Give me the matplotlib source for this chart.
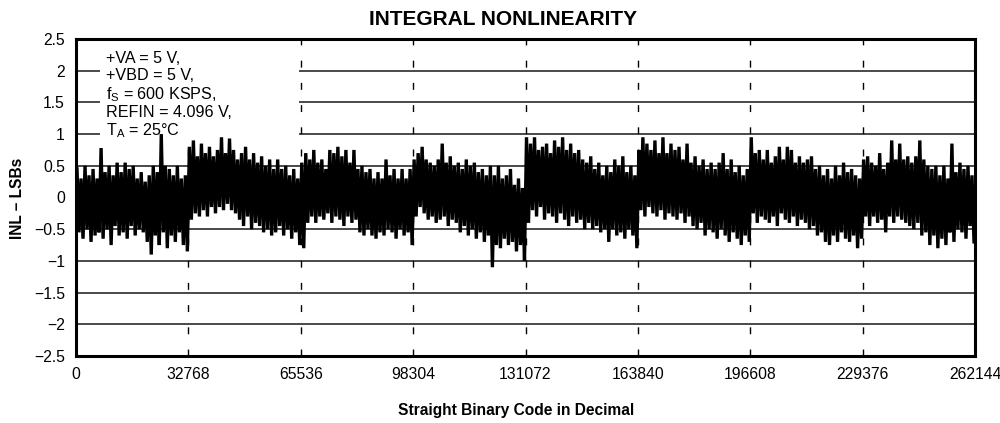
import matplotlib
matplotlib.use("Agg")
import matplotlib.pyplot as plt
from matplotlib.patches import Rectangle
import numpy as np

plt.rcParams['font.family'] = ['Liberation Sans', 'DejaVu Sans']
plt.rcParams['mathtext.fontset'] = 'custom'
plt.rcParams['mathtext.rm'] = 'Liberation Sans'
plt.rcParams['mathtext.it'] = 'Liberation Sans'

# ---------------- data (peak envelopes, 8 segments x 28 columns) ----------
upper_seg0 = [0.45, 0.30, 0.50, 0.35, 0.45, 0.30, 0.78, 0.40, 0.50, 0.35, 0.55, 0.40, 0.55, 0.45,
              0.50, 0.30, 0.40, 0.25, 0.35, 0.50, 0.40, 1.00, 0.50, 0.45, 0.35, 0.50, 0.30, 0.35]
lower_seg0 = [-0.55, -0.65, -0.50, -0.70, -0.60, -0.55, -0.65, -0.50, -0.75, -0.45, -0.60, -0.55, -0.65, -0.45,
              -0.60, -0.50, -0.55, -0.70, -0.90, -0.60, -0.75, -0.55, -0.80, -0.60, -0.70, -0.55, -0.75, -0.85]
upper_seg1 = [0.80, 0.90, 0.65, 0.85, 0.70, 0.80, 0.65, 0.75, 0.95, 0.70, 0.93, 0.75, 0.60, 0.70,
              0.80, 0.60, 0.70, 0.55, 0.65, 0.50, 0.60, 0.45, 0.60, 0.45, 0.50, 0.35, 0.45, 0.30]
lower_seg1 = [-0.35, -0.25, -0.30, -0.20, -0.30, -0.15, -0.25, -0.15, -0.20, -0.10, -0.20, -0.25, -0.35, -0.45,
              -0.30, -0.50, -0.40, -0.45, -0.55, -0.50, -0.60, -0.55, -0.45, -0.60, -0.50, -0.65, -0.55, -0.75]
upper_seg2 = [0.55, 0.70, 0.60, 0.75, 0.55, 0.60, 0.45, 0.75, 0.70, 0.80, 0.65, 0.75, 0.55, 0.75,
              0.45, 0.50, 0.40, 0.45, 0.30, 0.40, 0.30, 0.60, 0.35, 0.45, 0.30, 0.45, 0.30, 0.45]
lower_seg2 = [-0.80, -0.40, -0.30, -0.40, -0.30, -0.35, -0.25, -0.40, -0.30, -0.35, -0.45, -0.30, -0.40, -0.35,
              -0.55, -0.60, -0.50, -0.60, -0.65, -0.55, -0.60, -0.50, -0.55, -0.65, -0.50, -0.60, -0.55, -0.75]
upper_seg3 = [0.60, 0.70, 0.80, 0.60, 0.55, 0.50, 0.60, 0.85, 0.55, 0.65, 0.50, 0.55, 0.45, 0.60,
              0.50, 0.55, 0.40, 0.45, 0.35, 0.50, 0.35, 0.50, 0.30, 0.35, 0.45, 0.20, 0.30, 0.15]
lower_seg3 = [-0.30, -0.15, -0.25, -0.35, -0.30, -0.40, -0.35, -0.30, -0.45, -0.35, -0.40, -0.55, -0.45, -0.60,
              -0.50, -0.65, -0.55, -0.70, -0.60, -1.10, -0.75, -0.80, -0.65, -0.75, -0.70, -0.85, -0.75, -1.00]
upper_seg4 = [0.95, 0.85, 0.95, 0.75, 0.80, 0.85, 0.70, 0.90, 0.80, 0.95, 0.75, 0.85, 0.70, 0.75,
              0.60, 0.55, 0.65, 0.45, 0.55, 0.35, 0.50, 0.40, 0.60, 0.50, 0.65, 0.40, 0.50, 0.35]
lower_seg4 = [-0.40, -0.20, -0.30, -0.15, -0.35, -0.25, -0.30, -0.40, -0.25, -0.35, -0.45, -0.30, -0.40, -0.35,
              -0.50, -0.40, -0.50, -0.45, -0.55, -0.50, -0.70, -0.50, -0.60, -0.55, -0.65, -0.50, -0.60, -0.80]
upper_seg5 = [0.75, 0.95, 0.85, 0.75, 0.90, 0.70, 0.95, 0.70, 0.85, 0.75, 0.80, 0.60, 0.85, 0.55,
              0.65, 0.50, 0.60, 0.45, 0.55, 0.45, 0.55, 0.70, 0.45, 0.60, 0.40, 0.50, 0.35, 0.45]
lower_seg5 = [-0.20, -0.30, -0.15, -0.25, -0.30, -0.20, -0.35, -0.25, -0.30, -0.35, -0.25, -0.40, -0.30, -0.45,
              -0.50, -0.40, -0.60, -0.50, -0.55, -0.65, -0.50, -0.60, -0.70, -0.55, -0.65, -0.75, -0.60, -0.70]
upper_seg6 = [0.95, 0.70, 0.75, 0.60, 0.75, 0.55, 0.65, 0.80, 0.60, 0.80, 0.75, 0.55, 0.65, 0.55,
              0.60, 0.65, 0.45, 0.50, 0.35, 0.45, 0.30, 0.50, 0.35, 0.55, 0.40, 0.45, 0.35, 0.30]
lower_seg6 = [-0.25, -0.40, -0.30, -0.35, -0.40, -0.30, -0.45, -0.25, -0.35, -0.40, -0.30, -0.45, -0.35, -0.40,
              -0.50, -0.45, -0.60, -0.55, -0.70, -0.75, -0.60, -0.70, -0.55, -0.65, -0.70, -0.60, -0.80, -0.65]
upper_seg7 = [0.60, 0.65, 0.55, 0.50, 0.70, 0.45, 0.55, 0.90, 0.60, 0.85, 0.60, 0.65, 0.55, 0.65,
              0.90, 0.60, 0.50, 0.45, 0.50, 0.35, 0.50, 0.30, 0.85, 0.40, 0.55, 0.45, 0.50, 0.35]
lower_seg7 = [-0.30, -0.45, -0.30, -0.40, -0.35, -0.55, -0.30, -0.40, -0.30, -0.35, -0.40, -0.45, -0.50, -0.40,
              -0.60, -0.55, -0.75, -0.60, -0.80, -0.65, -0.75, -0.55, -0.70, -0.50, -0.55, -0.65, -0.45, -0.70]

x_ticks = [0, 32768, 65536, 98304, 131072, 163840, 196608, 229376, 262144]
x_tick_labels = ['0', '32768', '65536', '98304', '131072', '163840', '196608', '229376', '262144']
y_ticks = [-2.5, -2, -1.5, -1, -0.5, 0, 0.5, 1, 1.5, 2, 2.5]
y_tick_labels = ['\u22122.5', '\u22122', '\u22121.5', '\u22121', '\u22120.5', '0', '0.5', '1', '1.5', '2', '2.5']
conditions = ['+VA = 5 V,', '+VBD = 5 V,', 'f$_\\mathrm{S}$ = 600 KSPS,', 'REFIN = 4.096 V,',
              'T$_\\mathrm{A}$ = 25\u00b0C']
title = 'INTEGRAL NONLINEARITY'
xlabel = 'Straight Binary Code in Decimal'
ylabel = 'INL \u2013 LSBs'

upper = (upper_seg0 + upper_seg1 + upper_seg2 + upper_seg3 +
         upper_seg4 + upper_seg5 + upper_seg6 + upper_seg7)
lower = (lower_seg0 + lower_seg1 + lower_seg2 + lower_seg3 +
         lower_seg4 + lower_seg5 + lower_seg6 + lower_seg7)

# ---------------- figure ----------------
fig = plt.figure(figsize=(10.0, 4.23), dpi=100)
ax = fig.add_axes([0.076, 0.1584, 0.899, 0.7494])

n = len(upper)
full = 262144
step = full / n
xs, ys = [], []
for i in range(n):
    xs.append((i + 0.25) * step)
    ys.append(upper[i])
    xs.append((i + 0.75) * step)
    ys.append(lower[i])
ax.plot(xs, ys, color='black', lw=2.4, zorder=3, solid_joinstyle='miter')

ax.set_xlim(0, full)
ax.set_ylim(-2.5, 2.5)

# grid
for yv in y_ticks[1:-1]:
    ax.axhline(yv, color='#2a2a2a', lw=1.2, zorder=1)
for xv in x_ticks[1:-1]:
    ax.axvline(xv, color='black', lw=1.0, dashes=(5, 11), zorder=1)

# conditions box (white, hides grid)
ax.add_patch(Rectangle((7000, 0.9), 58000, 1.58, facecolor='white', edgecolor='none', zorder=2))
cond_y = [2.20, 1.92, 1.62, 1.34, 1.05]
for txt, yy in zip(conditions, cond_y):
    ax.text(8750, yy, txt, fontsize=11.6, va='center', ha='left', zorder=4)

ax.set_xticks(x_ticks)
ax.set_xticklabels(x_tick_labels, fontsize=11.3)
ax.set_yticks(y_ticks)
ax.set_yticklabels(y_tick_labels, fontsize=11.3)
ax.tick_params(axis='both', length=0, pad=8)
ax.tick_params(axis='y', pad=8)

for s in ax.spines.values():
    s.set_linewidth(2.2)
    s.set_zorder(5)

fig.text(0.5035, 0.954, title, ha='center', va='center', fontsize=15, fontweight='bold')
fig.text(0.516, 0.03, xlabel, ha='center', va='center', fontsize=11.2, fontweight='bold')
fig.text(0.018, 0.532, ylabel, ha='center', va='center', rotation=90, fontsize=11.2, fontweight='bold')

fig.savefig('out.png', dpi=100)
